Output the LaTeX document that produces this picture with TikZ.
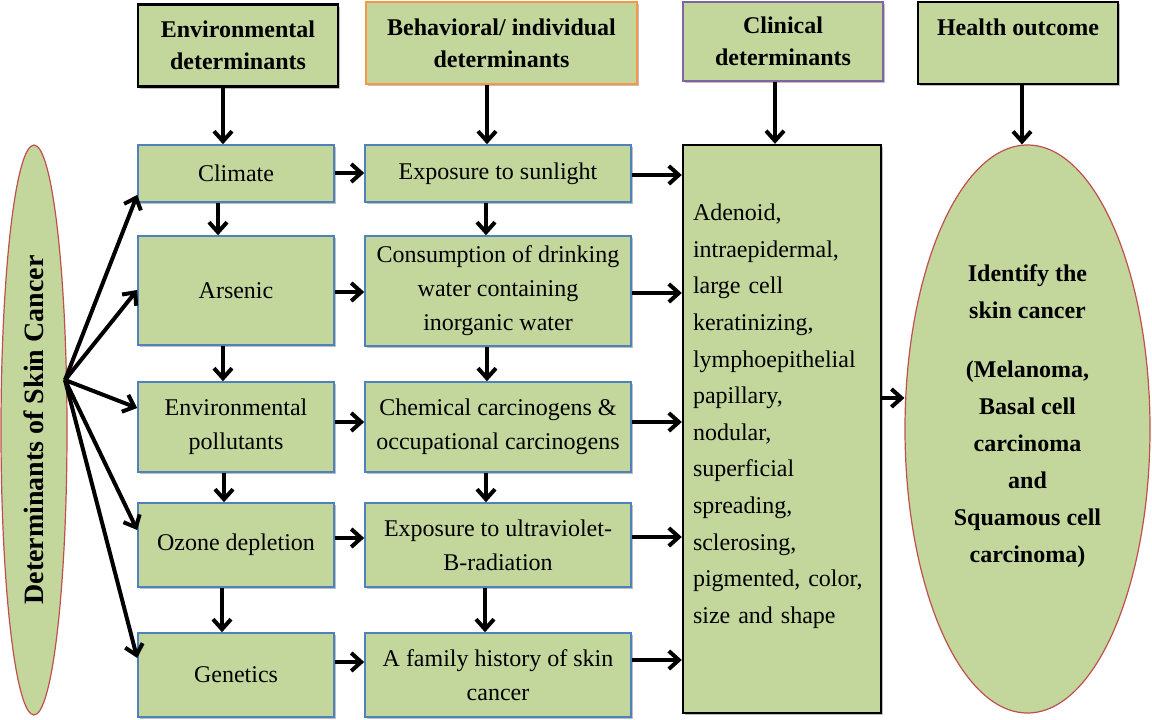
\documentclass[tikz,border=0pt]{standalone}
\usepackage{fontspec}
\setmainfont{Liberation Serif}
\usepackage{xcolor}
\usetikzlibrary{shapes.geometric, arrows.meta, positioning, shadows}

\definecolor{boxgreen}{RGB}{195,214,155}
\definecolor{boxblue}{RGB}{79,129,189}
\definecolor{headorange}{RGB}{247,150,70}
\definecolor{headpurple}{RGB}{128,100,162}
\definecolor{ovalred}{RGB}{192,80,77}

\begin{document}
\begin{tikzpicture}[
    x=0.5pt, y=-0.5pt,
    >={Straight Barb[length=5pt, width=9pt]},
    every node/.style={align=center, font=\fontsize{12}{17}\selectfont, inner sep=2pt}
]

\tikzset{
    softshadow/.style={drop shadow={shadow xshift=1pt, shadow yshift=-1pt, fill=black, opacity=0.25}},
    headbox/.style={draw=black, line width=1.2pt, fill=boxgreen, softshadow, minimum width=100pt, minimum height=41pt, font=\bfseries\fontsize{12}{16}\selectfont},
    factorbox/.style={draw=boxblue, line width=0.8pt, fill=boxgreen, softshadow, minimum height=42pt},
    envbox/.style={factorbox, minimum width=98pt},
    behbox/.style={factorbox, minimum width=133pt},
    clinbox/.style={draw=black, line width=1.2pt, fill=boxgreen, softshadow, minimum width=99pt, minimum height=284pt, text width=89pt, align=left, font=\fontsize{12}{18.3}\selectfont},
    ovalnode/.style={ellipse, draw=ovalred, line width=0.6pt, fill=boxgreen, inner sep=0pt},
    flowarrow/.style={->, line width=2pt, draw=black}
}

\useasboundingbox (0,0) rectangle (1152,719);

% column headers
\node [headbox] (envhead) at (238,45.5) {Environmental\\determinants};
\node [headbox, draw=headorange, minimum width=135.5pt] (behhead) at (501.5,43) {Behavioral/ individual\\determinants};
\node [headbox, draw=headpurple, line width=0.8pt, minimum height=39.5pt] (clinhead) at (783,41.5) {Clinical\\determinants};
\node [headbox] (healthhead) at (1018,43) {Health outcome\\\mbox{}};

% environmental determinants
\node [envbox, minimum height=28.5pt] (clim) at (236,173.5) {Climate};
\node [envbox, minimum height=54.5pt] (ars) at (236,290.5) {Arsenic};
\node [envbox, minimum height=45pt] (poll) at (236,427) {Environmental\\pollutants};
\node [envbox] (ozone) at (236,545) {Ozone depletion};
\node [envbox] (gen) at (236,675) {Genetics};

% behavioral determinants
\node [behbox, minimum height=28.5pt] (sun) at (498,173.5) {Exposure to sunlight};
\node [behbox, minimum height=55pt] (drink) at (498,291) {Consumption of drinking\\water containing\\inorganic water};
\node [behbox, minimum height=45pt] (chem) at (498,427) {Chemical carcinogens \&\\occupational carcinogens};
\node [behbox] (uv) at (498,545) {Exposure to ultraviolet-\\B-radiation};
\node [behbox] (fam) at (498,675) {A family history of skin\\cancer};

% clinical determinants
\node [clinbox] (clin) at (782,429) {Adenoid,\\intraepidermal,\\large cell\\keratinizing,\\lymphoepithelial\\papillary,\\nodular,\\superficial\\spreading,\\sclerosing,\\pigmented, color,\\size and shape\\[-3pt]\mbox{}};

% ovals
\node [ovalnode, minimum width=33pt, minimum height=285pt] (detell) at (34,430)
    {\rotatebox{90}{\bfseries\fontsize{14}{16}\selectfont Determinants of Skin Cancer}};
\node [ovalnode, minimum width=122.5pt, minimum height=284pt, font=\bfseries\fontsize{12}{18.5}\selectfont] (outc) at (1027.5,429)
    {Identify the\\skin cancer\\[11pt](Melanoma,\\Basal cell\\carcinoma\\and\\Squamous cell\\carcinoma)\\[-3pt]\mbox{}};

\coordinate (fan) at (65,380);

% header arrows
\draw [flowarrow] (223,0 |- envhead.south) -- (223,0 |- clim.north);
\draw [flowarrow] (487,0 |- behhead.south) -- (487,0 |- sun.north);
\draw [flowarrow] (775,0 |- clinhead.south) -- (775,0 |- clin.north);
\draw [flowarrow] (1022,0 |- healthhead.south) -- (1022,0 |- outc.north);

% down the columns
\draw [flowarrow] (218,0 |- clim.south) -- (218,0 |- ars.north);
\draw [flowarrow] (223,0 |- ars.south) -- (223,0 |- poll.north);
\draw [flowarrow] (224,0 |- poll.south) -- (224,0 |- ozone.north);
\draw [flowarrow] (222,0 |- ozone.south) -- (222,0 |- gen.north);
\draw [flowarrow] (486,0 |- sun.south) -- (486,0 |- drink.north);
\draw [flowarrow] (487,0 |- drink.south) -- (487,0 |- chem.north);
\draw [flowarrow] (486,0 |- chem.south) -- (486,0 |- uv.north);
\draw [flowarrow] (485,0 |- uv.south) -- (485,0 |- fam.north);

% environmental to behavioral
\draw [flowarrow] (clim.east |- 0,173) -- (sun.west |- 0,173);
\draw [flowarrow] (ars.east |- 0,292) -- (drink.west |- 0,292);
\draw [flowarrow] (poll.east |- 0,422) -- (chem.west |- 0,422);
\draw [flowarrow] (ozone.east |- 0,538) -- (uv.west |- 0,538);
\draw [flowarrow] (gen.east |- 0,662) -- (fam.west |- 0,662);

% behavioral to clinical
\draw [flowarrow] (sun.east |- 0,175) -- (clin.west |- 0,175);
\draw [flowarrow] (drink.east |- 0,293) -- (clin.west |- 0,293);
\draw [flowarrow] (chem.east |- 0,422) -- (clin.west |- 0,422);
\draw [flowarrow] (uv.east |- 0,537) -- (clin.west |- 0,537);
\draw [flowarrow] (fam.east |- 0,660) -- (clin.west |- 0,660);

% fan out of the left oval
\draw [flowarrow] (fan) -- (clim.west |- 0,195);
\draw [flowarrow] (fan) -- (ars.west |- 0,290);
\draw [flowarrow] (fan) -- (poll.west |- 0,408);
\draw [flowarrow] (fan) -- (ozone.west |- 0,530);
\draw [flowarrow] (fan) -- (gen.west |- 0,658);

\draw [flowarrow] (clin.east |- 0,398) -- (outc.west |- 0,398);

\end{tikzpicture}
\end{document}
